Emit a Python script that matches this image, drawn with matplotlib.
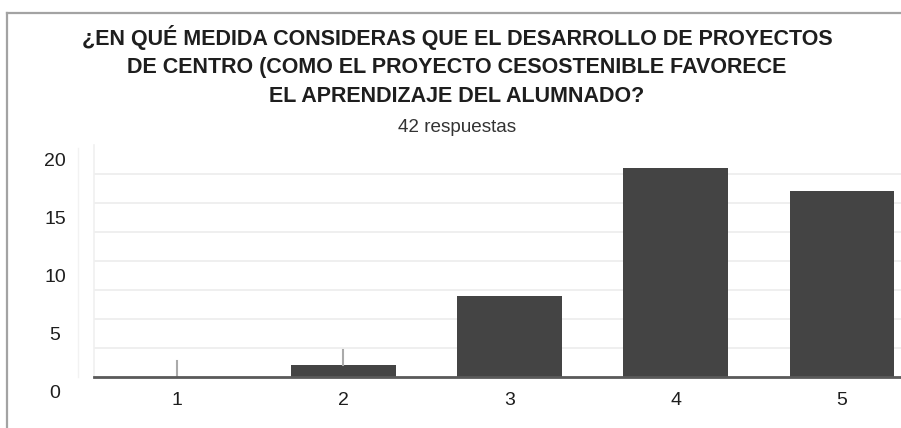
import matplotlib
matplotlib.use("Agg")
import matplotlib.pyplot as plt
import matplotlib.transforms as mtransforms
from matplotlib.lines import Line2D

plt.rcParams['font.family'] = ['Liberation Sans', 'DejaVu Sans']

# ------------------------
# datos
# ------------------------
categorias = ['1', '2', '3', '4', '5']
respuestas = [0, 1, 7, 18, 16]
titulo = ["¿EN QUÉ MEDIDA CONSIDERAS QUE EL DESARROLLO DE PROYECTOS",
          "DE CENTRO (COMO EL PROYECTO CESOSTENIBLE FAVORECE",
          "EL APRENDIZAJE DEL ALUMNADO?"]
subtitulo = "42 respuestas"
yticks = [0, 5, 10, 15, 20]

W, H = 901, 428
fig = plt.figure(figsize=(W / 100, H / 100), dpi=100)

# marco gris (arriba e izquierda)
fig.add_artist(Line2D([7 / W, 7 / W], [0, 1 - 13 / H], color='#a3a3a3', lw=1.6,
                      transform=fig.transFigure))
fig.add_artist(Line2D([7 / W, 1], [1 - 13 / H, 1 - 13 / H], color='#a3a3a3', lw=1.6,
                      transform=fig.transFigure))

# titulo
ys = [38, 67, 96]
for linea, y in zip(titulo, ys):
    fig.text(457 / W, 1 - y / H, linea, ha='center', va='center',
             fontsize=15.5, fontweight='bold', color='#1e1e1e')
fig.text(457 / W, 1 - 127 / H, subtitulo, ha='center', va='center',
         fontsize=13.6, color='#333333')

# ejes
left = 94 / W
bottom = (H - 377) / H
height = (377 - 145) / H
ax = fig.add_axes([left, bottom, (W - 94) / W, height])

x = list(range(1, len(categorias) + 1))
ax.bar(x, respuestas, width=0.63, color='#444444', zorder=3)

# pequeñas marcas encima de las barras bajas
for xi, v in zip(x, respuestas):
    if v < 2:
        ax.plot([xi, xi], [v, v + 1.35], color='#aaaaaa', lw=1.5, zorder=4)

ax.set_xlim(0.5, 5.355)
ax.set_ylim(0, 20)

ax.set_yticks(yticks)
ax.set_yticks([2.5, 7.5, 12.5, 17.5], minor=True)
ax.grid(True, which='both', axis='y', color='#ececec', lw=1.2, zorder=0)
ax.yaxis.get_gridlines()[-1].set_visible(False)   # sin linea en 20
ax.tick_params(axis='y', which='both', length=0, labelsize=14, pad=0, colors='#1e1e1e')
ax.tick_params(axis='x', length=0, labelsize=14, pad=11, colors='#1e1e1e')
ax.set_xticks(x)
ax.set_xticklabels(categorias)

# etiquetas del eje y desplazadas hacia abajo, centradas
offset = mtransforms.ScaledTranslation(-39 / 100, -15 / 100, fig.dpi_scale_trans)
for lab in ax.get_yticklabels():
    lab.set_horizontalalignment('center')
    lab.set_transform(lab.get_transform() + offset)

# linea vertical tenue a la izquierda
fig.add_artist(Line2D([78 / W, 78 / W], [bottom, 1 - 148 / H], color='#f2f2f2', lw=1,
                      transform=fig.transFigure))

for s in ['top', 'right']:
    ax.spines[s].set_visible(False)
ax.spines['left'].set_color('#f0f0f0')
ax.spines['left'].set_linewidth(1.2)
ax.spines['bottom'].set_color('#5a5a5a')
ax.spines['bottom'].set_linewidth(2)
ax.spines['bottom'].set_zorder(5)

fig.savefig('out.png', dpi=100)
